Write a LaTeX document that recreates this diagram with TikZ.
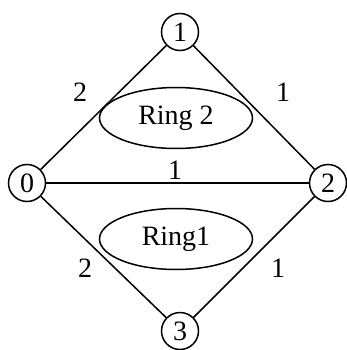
\documentclass[tikz,border=0pt]{standalone}
\usepackage{fontspec}
\setmainfont{Liberation Serif}
\usetikzlibrary{shapes.geometric}
\begin{document}
\begin{tikzpicture}[x=1pt,y=-1pt,
  every node/.style={font=\fontsize{28}{30}\selectfont},
  vtx/.style={draw,circle,line width=1.5pt,minimum size=37pt,inner sep=0pt},
  ring/.style={draw,ellipse,line width=1.5pt,minimum width=153pt,minimum height=61pt,inner sep=0pt},
  edge/.style={line width=1.5pt},
  wlabel/.style={inner sep=0pt}]
\useasboundingbox (0,0) rectangle (346,350);
\node[vtx] (n1) at (180,32) {1};
\node[vtx] (n0) at (27,183) {0};
\node[vtx] (n2) at (328,183) {2};
\node[vtx] (n3) at (180,331) {3};
\draw[edge] (n0) -- (n1);
\draw[edge] (n1) -- (n2);
\draw[edge] (n0) -- (n2);
\draw[edge] (n0) -- (n3);
\draw[edge] (n3) -- (n2);
\node[ring] (r2) at (176,118) {Ring 2};
\node[ring] (r1) at (176,239) {Ring1};
\node[wlabel] (l01) at (80,92) {2};
\node[wlabel] (l12) at (283,92) {1};
\node[wlabel] (l02) at (175,170) {1};
\node[wlabel] (l03) at (85,268) {2};
\node[wlabel] (l32) at (278,268) {1};
\end{tikzpicture}
\end{document}
